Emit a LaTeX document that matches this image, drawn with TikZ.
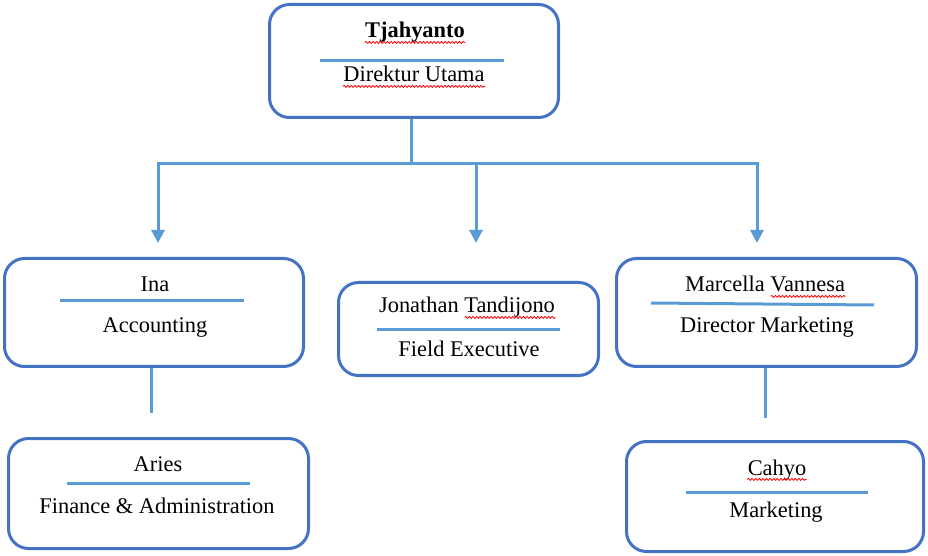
\documentclass[tikz,border=0pt]{standalone}
\usepackage{fontspec}
\setmainfont{Liberation Serif}
\usetikzlibrary{arrows.meta,decorations.pathmorphing}
\definecolor{boxblue}{HTML}{4472C4}
\definecolor{linkblue}{HTML}{5B9BD5}
\newlength\jonw
\newlength\marw
\newcommand\txtsize{\fontsize{11.2}{13}\selectfont}
\begin{document}
\settowidth{\jonw}{\txtsize Tandijono}%
\settowidth{\marw}{\txtsize Vannesa}%
\begin{tikzpicture}[x=0.5pt, y=-0.5pt,
	unit/.style={draw=boxblue, line width=1.5pt, rounded corners=10pt, inner sep=0pt},
	txt/.style={anchor=base, inner sep=0pt, font=\txtsize},
	sep/.style={draw=linkblue, line width=1.5pt},
	link/.style={draw=linkblue, line width=1.5pt},
	arr/.style={link, -{Triangle[width=6.5pt,length=6.5pt]}},
	wave/.style={draw=red, line width=0.4pt, decorate, decoration={snake, amplitude=0.5pt, segment length=1.8pt}}]
	\useasboundingbox (0,0) rectangle (928,556);
	% boxes
	\node[unit, minimum width=144.5pt, minimum height=56.5pt] (top) at (414,61) {};
	\node[unit, minimum width=149.5pt, minimum height=54pt] (ina) at (154,312.5) {};
	\node[unit, minimum width=130pt, minimum height=46.5pt] (jon) at (468.5,329) {};
	\node[unit, minimum width=150pt, minimum height=54pt] (mar) at (766.5,312.5) {};
	\node[unit, minimum width=150pt, minimum height=55pt] (ari) at (158.5,493.5) {};
	\node[unit, minimum width=148.5pt, minimum height=55pt] (cah) at (775,496.5) {};
	% texts
	\node[txt] (topname) at (415,38) {\textbf{Tjahyanto}};
	\node[txt] (toprole) at (414,82) {Direktur Utama};
	\node[txt] (inaname) at (155,292) {Ina};
	\node[txt] (inarole) at (155,333) {Accounting};
	\node[txt] (jonname) at (467,313) {Jonathan Tandijono};
	\node[txt] (jonrole) at (469,357) {Field Executive};
	\node[txt] (marname) at (765,292) {Marcella Vannesa};
	\node[txt] (marrole) at (767,333) {Director Marketing};
	\node[txt] (ariname) at (158,472) {Aries};
	\node[txt] (arirole) at (157,513) {Finance \& Administration};
	\node[txt] (cahname) at (777,475) {Cahyo};
	\node[txt] (cahrole) at (776,517) {Marketing};
	% spelling marks
	\draw[wave] ([yshift=-2.2pt]topname.base west) -- ([yshift=-2.2pt]topname.base east);
	\draw[wave] ([yshift=-2.2pt]toprole.base west) -- ([yshift=-2.2pt]toprole.base east);
	\draw[wave] ([xshift=-\jonw, yshift=-2.2pt]jonname.base east) -- ([yshift=-2.2pt]jonname.base east);
	\draw[wave] ([xshift=-\marw, yshift=-2.2pt]marname.base east) -- ([yshift=-2.2pt]marname.base east);
	\draw[wave] ([yshift=-2.2pt]cahname.base west) -- ([yshift=-2.2pt]cahname.base east);
	% separators
	\draw[sep] (320,61) -- (504,61);
	\draw[sep] (60,301) -- (244,301);
	\draw[sep] (377,330) -- (560,330);
	\draw[sep] (651,303) -- (874,305);
	\draw[sep] (67,483) -- (250,483);
	\draw[sep] (686,492) -- (868,492);
	% connectors
	\coordinate (hub) at (411,164);
	\coordinate (tipina) at (158,243);
	\coordinate (tipjon) at (476,243);
	\coordinate (tipmar) at (757,243);
	\coordinate (inaend) at (151,413);
	\coordinate (marend) at (765,418);
	\draw[link] (top.south -| hub) -- (hub);
	\draw[arr] (hub) -| (tipina);
	\draw[arr] (hub) -| (tipjon);
	\draw[arr] (hub) -| (tipmar);
	\draw[link] (ina.south -| inaend) -- (inaend);
	\draw[link] (mar.south -| marend) -- (marend);
\end{tikzpicture}
\end{document}
